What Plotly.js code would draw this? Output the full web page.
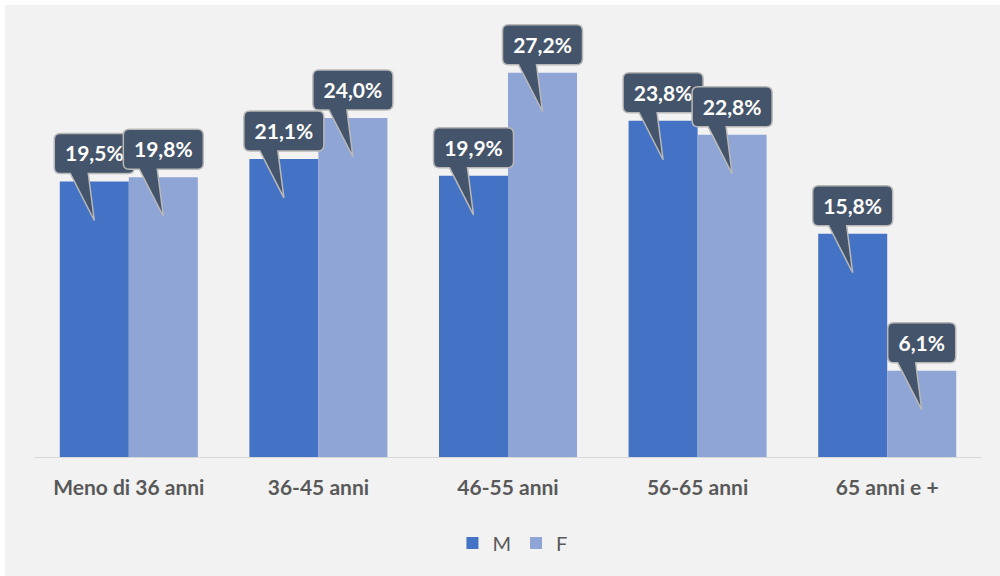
<!DOCTYPE html>
<html>
<head>
<meta charset="utf-8">
<script src="https://cdn.plot.ly/plotly-3.0.1.min.js"></script>
<style>
  html, body { margin: 0; padding: 0; background: #ffffff; width: 1000px; height: 576px; overflow: hidden; }
  #chart { position: absolute; left: 5px; top: 5px; width: 995px; height: 571px; }
</style>
</head>
<body>
<div id="chart"></div>
<script>
const categories = ["Meno di 36 anni", "36-45 anni", "46-55 anni", "56-65 anni", "65 anni e +"];
const seriesNames = ["M", "F"];
const valuesM = [19.5, 21.1, 19.9, 23.8, 15.8];
const valuesF = [19.8, 24.0, 27.2, 22.8, 6.1];

const colorM = "#4472C4";
const colorF = "#8FA5D6";
const calloutFill = "#44546A";
const calloutLine = "#B8B8B8";
const FONT = "Lato, 'Open Sans', sans-serif";

const bargap = 0.272;
const barOffset = (1 - bargap) / 4; // centre of each bar relative to category index

function fmt(v) { return v.toFixed(1).replace('.', ',') + '%'; }

function calloutPath(halfW) {
  const r = 6, yb = 8, yt = 48, tip = -39;
  const w = halfW;
  return `M ${-w + r},${yt} L ${w - r},${yt} Q ${w},${yt} ${w},${yt - r} ` +
         `L ${w},${yb + r} Q ${w},${yb} ${w - r},${yb} ` +
         `L -6,${yb} L 0,${tip} L -24,${yb} ` +
         `L ${-w + r},${yb} Q ${-w},${yb} ${-w},${yb + r} ` +
         `L ${-w},${yt - r} Q ${-w},${yt} ${-w + r},${yt} Z`;
}

const shapes = [];
categories.forEach((c, i) => {
  [[valuesM[i], -barOffset], [valuesF[i], barOffset]].forEach(([v, off]) => {
    const txt = fmt(v);
    const halfW = txt.length >= 5 ? 40 : 34;
    shapes.push({
      type: 'path', layer: 'above',
      xref: 'x', yref: 'y',
      xsizemode: 'pixel', ysizemode: 'pixel',
      xanchor: i + off, yanchor: v,
      path: calloutPath(halfW),
      fillcolor: calloutFill,
      line: { color: calloutLine, width: 1.5 },
      label: {
        text: '<b>' + txt + '</b>',
        textposition: 'top center',
        padding: 7,
        font: { family: FONT, size: 21, color: '#ffffff' }
      }
    });
  });
});

const data = [
  { type: 'bar', name: seriesNames[0], x: categories, y: valuesM,
    marker: { color: colorM, line: { width: 0 } }, hoverinfo: 'skip' },
  { type: 'bar', name: seriesNames[1], x: categories, y: valuesF,
    marker: { color: colorF, line: { width: 0 } }, hoverinfo: 'skip' }
];

const layout = {
  width: 995, height: 571,
  paper_bgcolor: '#F2F2F2', plot_bgcolor: '#F2F2F2',
  margin: { l: 29, r: 18, t: 14, b: 119 },
  barmode: 'group', bargap: bargap, bargroupgap: 0,
  font: { family: FONT, color: '#595959' },
  xaxis: {
    type: 'category',
    showline: true, linecolor: '#D9D9D9', linewidth: 1,
    ticks: '', showgrid: false, zeroline: false,
    ticklabelstandoff: 12,
    tickfont: { family: FONT, size: 21, color: '#595959', weight: 'bold' }
  },
  yaxis: {
    range: [0, 31], visible: false, showgrid: false, zeroline: false, fixedrange: true
  },
  showlegend: true,
  legend: {
    orientation: 'h', xref: 'container', yref: 'container',
    x: 0.51, xanchor: 'center', y: 0.058, yanchor: 'middle',
    font: { family: FONT, size: 20, color: '#595959' },
    bgcolor: 'rgba(0,0,0,0)', itemwidth: 30
  },
  shapes: shapes
};

Plotly.newPlot('chart', data, layout, { staticPlot: true, displayModeBar: false });
</script>
</body>
</html>
